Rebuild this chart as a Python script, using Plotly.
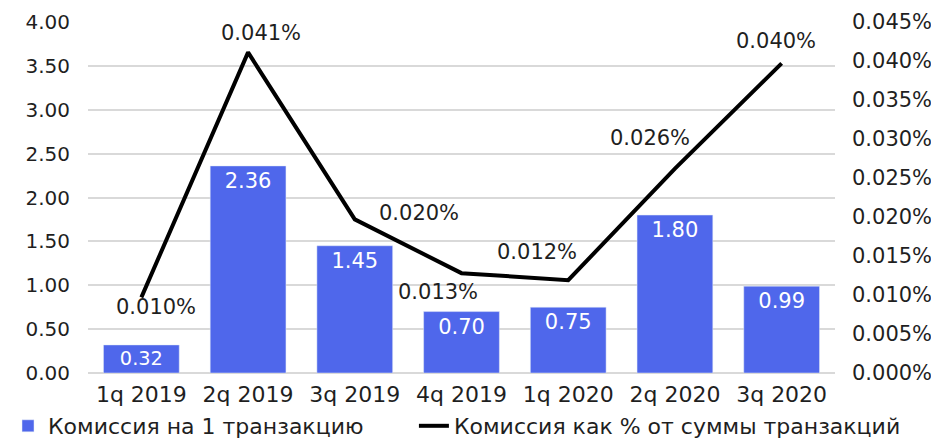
import plotly.graph_objects as go

quarters = ["1q 2019", "2q 2019", "3q 2019", "4q 2019", "1q 2020", "2q 2020", "3q 2020"]
fee_per_tx = [0.32, 2.36, 1.45, 0.70, 0.75, 1.80, 0.99]
fee_pct = [0.0097, 0.0411, 0.0197, 0.0128, 0.0119, 0.0262, 0.0397]
fee_pct_labels = ["0.010%", "0.041%", "0.020%", "0.013%", "0.012%", "0.026%", "0.040%"]

# label placement relative to each line point (pixels; style, not data)
label_shift = [(15, -10), (13, 19), (64, 6), (-24, -19), (-31, 28), (-25, 31), (-6, 22)]

FONT = "DejaVu Sans"
BLUE = "#4F67EB"
TXT = "#1f1f1f"

fig = go.Figure()
fig.add_trace(go.Bar(
    x=quarters, y=fee_per_tx, name="Комиссия на 1 транзакцию",
    marker_color=BLUE, legend="legend",
    text=[f"{v:.2f}" for v in fee_per_tx],
    textposition="inside", insidetextanchor="end",
    textfont=dict(color="white", size=21, family=FONT),
    cliponaxis=False,
))
fig.add_trace(go.Scatter(
    x=quarters, y=fee_pct, name="Комиссия как % от суммы транзакций",
    yaxis="y2", mode="lines", legend="legend2",
    line=dict(color="black", width=4),
    cliponaxis=False,
))

for q, v, lab, (dx, dy) in zip(quarters, fee_pct, fee_pct_labels, label_shift):
    fig.add_annotation(x=q, y=v, xref="x", yref="y2", text=lab, showarrow=False,
                       xshift=dx, yshift=dy,
                       font=dict(size=21, family=FONT, color=TXT))

leg_common = dict(orientation="h", xref="container", xanchor="left",
                  yref="container", y=-0.018, yanchor="bottom",
                  font=dict(size=22, family=FONT, color=TXT), itemwidth=30,
                  bgcolor="rgba(0,0,0,0)")

# page body has an 8px margin, so the figure is sized/offset accordingly
fig.update_layout(
    width=931, height=439,
    margin=dict(l=80, r=104, t=14, b=74, autoexpand=False),
    plot_bgcolor="white", paper_bgcolor="white",
    font=dict(family=FONT, size=21, color=TXT),
    bargap=0.29,
    showlegend=True,
    legend=dict(x=-0.011, **leg_common),
    legend2=dict(x=0.436, **leg_common),
    xaxis=dict(showgrid=False, ticks="", showline=False,
               tickfont=dict(size=22), ticklabelstandoff=6),
    yaxis=dict(range=[0, 4], dtick=0.5, tickformat=".2f", showgrid=True,
               gridcolor="#d9d9d9", gridwidth=1.5, zeroline=True,
               zerolinecolor="#d9d9d9", zerolinewidth=1.5,
               tickfont=dict(size=20), ticklabelstandoff=17),
    yaxis2=dict(range=[0, 0.045], dtick=0.005, tickformat=".3f", ticksuffix="%",
                overlaying="y", side="right", showgrid=False, zeroline=False,
                tickfont=dict(size=21), ticklabelstandoff=16),
)

fig.write_html("out.html")
